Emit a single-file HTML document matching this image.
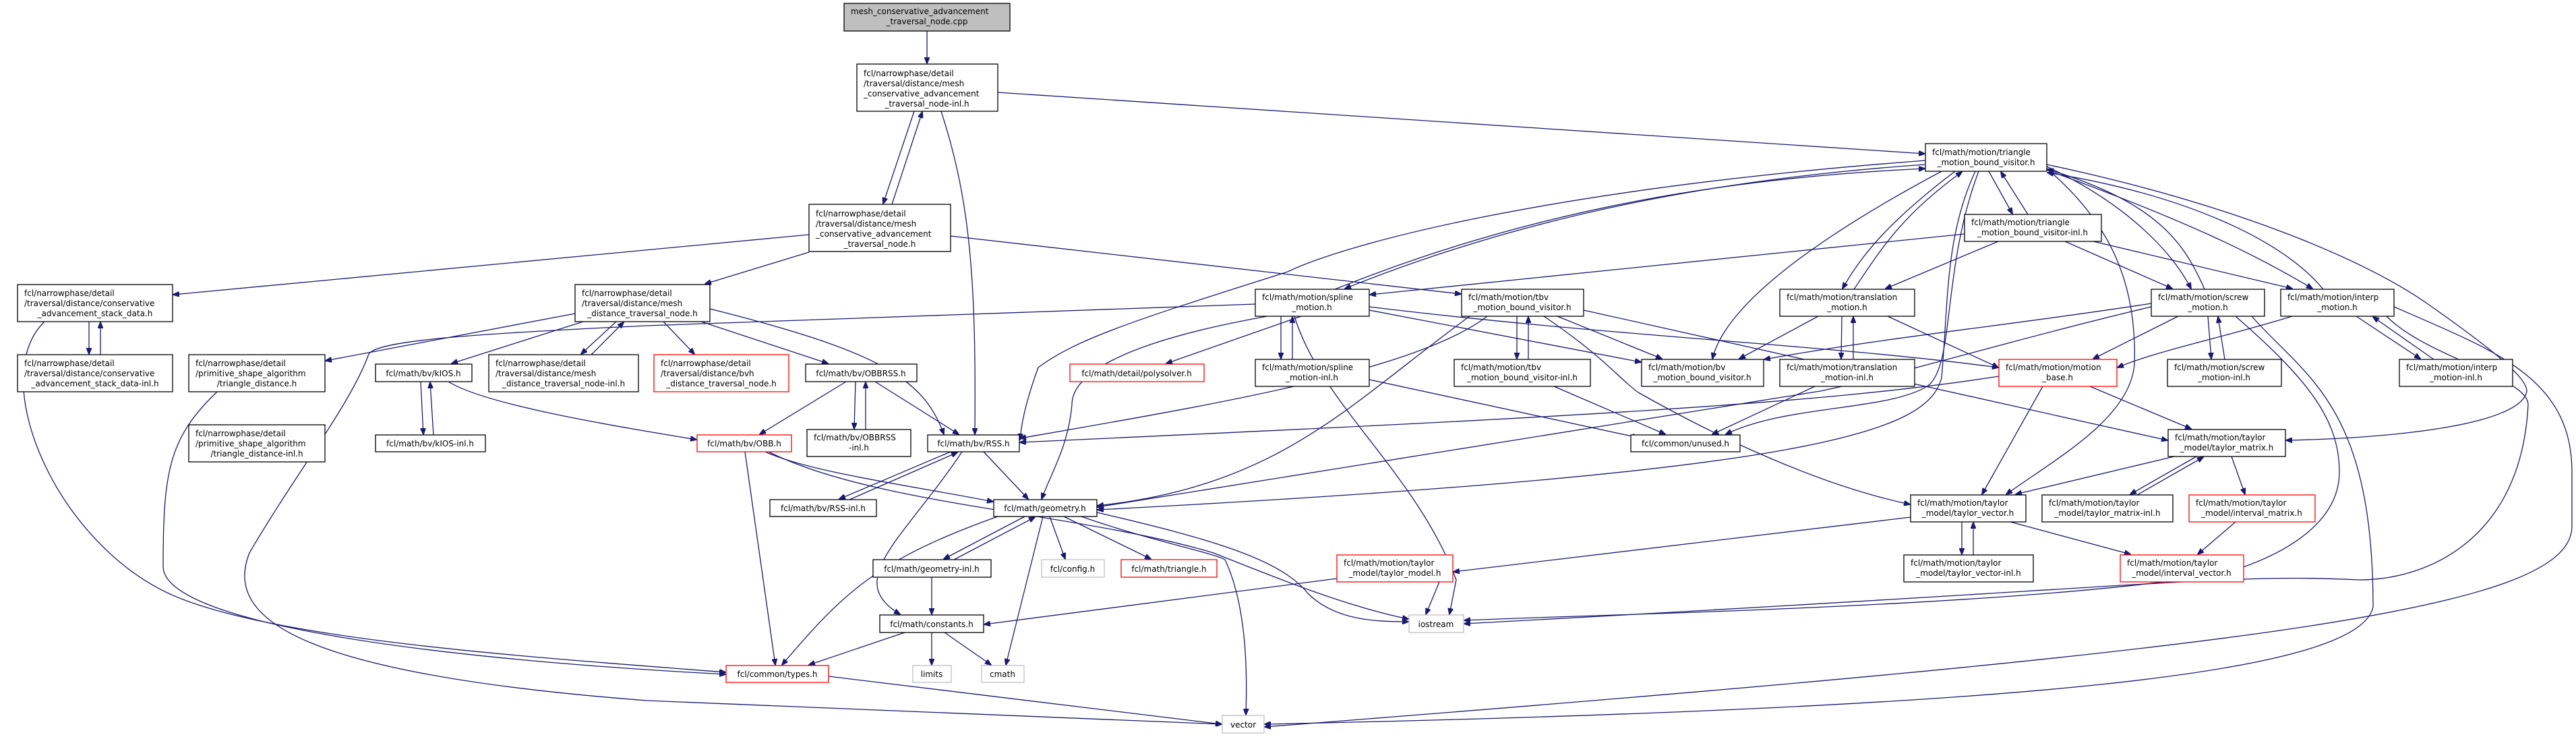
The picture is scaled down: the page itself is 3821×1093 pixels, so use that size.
<!DOCTYPE html>
<html><head><meta charset="utf-8"><style>
html,body{margin:0;padding:0;background:#fff}
svg{display:block}
text{font-family:"DejaVu Sans","Liberation Sans",sans-serif;font-size:12px;fill:#000}
.e{fill:none;stroke:#191970;stroke-width:1.3;marker-end:url(#a)}
.n{fill:#fff;stroke:#000;stroke-width:1.3}
.g{fill:#fff;stroke:#bfbfbf;stroke-width:1.3}
.r{fill:#fff;stroke:#ff0000;stroke-width:1.3}
.c{text-anchor:middle}
</style></head><body>
<svg width="3821" height="1093" viewBox="0 0 3821 1093" xmlns="http://www.w3.org/2000/svg">
<defs><marker id="a" markerWidth="10" markerHeight="8" refX="9" refY="4" orient="auto" markerUnits="userSpaceOnUse"><path d="M0,0 L10,4 L0,8 z" fill="#191970" stroke="#191970"/></marker></defs>

<!-- edges -->
<path class="e" d="M1375,46 L1375,94"/>
<path class="e" d="M1356,165 L1310,302"/>
<path class="e" d="M1323,303 L1368,166"/>
<path class="e" d="M1396,165 C1440,300 1448,420 1446,644"/>
<path class="e" d="M1480,137 L2855,228"/>
<path class="e" d="M1200,348 L257,437"/>
<path class="e" d="M1200,374 L1046,421"/>
<path class="e" d="M1410,350 L2167,436"/>
<path class="e" d="M132,477 L132,525"/>
<path class="e" d="M149,526 L149,478"/>
<path class="e" d="M66,477 C-20,560 80,800 250,880 C400,950 800,975 1076,997"/>
<path class="e" d="M322,581 C250,650 242,700 242,840 C242,920 600,975 1076,1000"/>
<path class="e" d="M853,465 L483,535"/>
<path class="e" d="M865,477 L670,539"/>
<path class="e" d="M914,477 L862,525"/>
<path class="e" d="M877,526 L925,478"/>
<path class="e" d="M984,477 L1030,525"/>
<path class="e" d="M1040,477 L1228,539"/>
<path class="e" d="M1053,458 C1300,520 1370,560 1400,644"/>
<path class="e" d="M1862,451 L960,483 C700,495 560,505 547,525 C520,600 440,700 370,820 C330,920 450,1000 960,1039 L1812,1074"/>
<path class="e" d="M624,566 L628,644"/>
<path class="e" d="M643,645 L638,567"/>
<path class="e" d="M665,566 C720,600 900,630 1033,652"/>
<path class="e" d="M1255,566 L1127,644"/>
<path class="e" d="M1269,566 L1267,636"/>
<path class="e" d="M1284,637 L1284,567"/>
<path class="e" d="M1298,566 L1422,644"/>
<path class="e" d="M1410,670 L1245,740"/>
<path class="e" d="M1260,741 L1420,671"/>
<path class="e" d="M1459,670 L1525,740"/>
<path class="e" d="M1427,670 C1340,800 1250,860 1335,911"/>
<path class="e" d="M1105,670 L1150,986"/>
<path class="e" d="M1135,670 C1200,700 1350,720 1473,744"/>
<path class="e" d="M1140,670 C1300,750 1600,760 1800,820 C1900,860 2000,900 2089,918"/>
<path class="e" d="M1480,766 C1300,830 1250,880 1160,986"/>
<path class="e" d="M1520,766 L1400,829"/>
<path class="e" d="M1415,830 L1535,767"/>
<path class="e" d="M1557,766 L1580,829"/>
<path class="e" d="M1578,766 L1707,829"/>
<path class="e" d="M1547,766 L1492,986"/>
<path class="e" d="M1604,766 C1700,800 1800,820 1817,830 C1850,900 1850,1000 1848,1060"/>
<path class="e" d="M1627,760 C1800,800 1900,830 1940,880 C1980,920 2040,922 2089,922"/>
<path class="e" d="M1382,856 L1382,911"/>
<path class="e" d="M1342,938 L1200,986"/>
<path class="e" d="M1382,938 L1382,986"/>
<path class="e" d="M1401,938 L1470,986"/>
<path class="e" d="M1229,1003 L1812,1074"/>
<path class="e" d="M1980,429 C2300,300 2600,262 2855,250"/>
<path class="e" d="M2855,244 C2600,262 2300,305 1995,428"/>
<path class="e" d="M2856,238 C2300,280 2000,360 1910,403 C1700,470 1600,500 1540,545 C1520,600 1515,630 1513,652"/>
<path class="e" d="M2914,347 L2032,437"/>
<path class="e" d="M1900,469 L1900,532"/>
<path class="e" d="M1917,533 L1917,470"/>
<path class="e" d="M1930,469 L1730,539"/>
<path class="e" d="M1880,469 C1650,510 1590,560 1590,600 C1585,660 1560,700 1545,740"/>
<path class="e" d="M2031,460 L2434,537"/>
<path class="e" d="M2031,455 C2400,500 2700,510 2964,545"/>
<path class="e" d="M1920,469 C1960,600 2100,700 2160,860 L2150,911"/>
<path class="e" d="M2250,469 L2250,532"/>
<path class="e" d="M2267,533 L2267,470"/>
<path class="e" d="M2310,469 L2465,532"/>
<path class="e" d="M2206,469 C2100,550 1800,600 1513,650"/>
<path class="e" d="M2290,469 C2380,530 2400,560 2430,582 C2550,650 2700,720 2833,748"/>
<path class="e" d="M2349,460 L3215,653"/>
<path class="e" d="M2180,469 C2000,600 1900,720 1628,750"/>
<path class="e" d="M2305,573 L2470,644"/>
<path class="e" d="M2031,563 L2430,649"/>
<path class="e" d="M2692,573 L2540,644"/>
<path class="e" d="M2732,469 L2731,532"/>
<path class="e" d="M2749,533 L2749,470"/>
<path class="e" d="M2697,469 L2580,532"/>
<path class="e" d="M2800,469 L2964,545"/>
<path class="e" d="M2900,254 C2800,330 2760,380 2733,428"/>
<path class="e" d="M2750,429 C2790,370 2820,320 2910,255"/>
<path class="e" d="M2880,254 C2700,350 2560,450 2540,532"/>
<path class="e" d="M2935,254 C2880,400 2900,540 2860,572 C2800,610 2650,600 2560,644"/>
<path class="e" d="M2950,254 L2985,317"/>
<path class="e" d="M3008,318 L2968,255"/>
<path class="e" d="M3036,247 C3150,300 3220,370 3250,428"/>
<path class="e" d="M3270,429 C3240,360 3200,300 3037,251"/>
<path class="e" d="M3036,252 C3250,330 3350,380 3430,428"/>
<path class="e" d="M3446,429 C3390,360 3250,290 3037,256"/>
<path class="e" d="M3036,244 C3300,300 3500,380 3600,450 C3700,520 3748,560 3748,580 C3740,630 3550,650 3391,653"/>
<path class="e" d="M3036,250 C3130,330 3170,420 3166,540 C3160,620 3050,680 2976,733"/>
<path class="e" d="M2930,254 C2885,350 2890,450 2880,560 C2860,640 2700,700 1628,756"/>
<path class="e" d="M3275,469 L3280,532"/>
<path class="e" d="M3300,533 L3290,470"/>
<path class="e" d="M3231,469 L3105,532"/>
<path class="e" d="M3191,450 C3000,480 2800,500 2617,533"/>
<path class="e" d="M3316,469 C3420,560 3470,620 3470,700 C3470,770 3400,820 3300,850 C3000,900 2400,910 2172,920"/>
<path class="e" d="M3340,469 C3420,560 3520,600 3520,900 C3500,1000 3000,1050 1876,1074"/>
<path class="e" d="M3495,469 L3590,532"/>
<path class="e" d="M3610,533 L3520,470"/>
<path class="e" d="M3400,469 C3300,500 3200,520 3141,545"/>
<path class="e" d="M3540,469 C3600,530 3750,560 3750,600 C3740,800 3600,860 3500,860 C3300,850 3200,870 2172,925"/>
<path class="e" d="M3551,455 C3700,520 3815,560 3815,700 L3815,780 C3815,900 3400,960 1876,1078"/>
<path class="e" d="M3063,358 L3222,428"/>
<path class="e" d="M3105,358 L3400,428"/>
<path class="e" d="M2964,358 L2797,428"/>
<path class="e" d="M2965,558 C2700,600 2300,620 1513,656"/>
<path class="e" d="M3030,573 L2940,733"/>
<path class="e" d="M3100,573 L3250,636"/>
<path class="e" d="M3225,677 L2990,733"/>
<path class="e" d="M3258,677 L3160,733"/>
<path class="e" d="M3170,734 L3268,678"/>
<path class="e" d="M3310,677 L3330,733"/>
<path class="e" d="M2910,774 L2910,822"/>
<path class="e" d="M2927,823 L2927,775"/>
<path class="e" d="M2982,774 L3160,822"/>
<path class="e" d="M3316,774 L3260,822"/>
<path class="e" d="M1983,858 L1460,926"/>
<path class="e" d="M2135,863 L2115,911"/>
<path class="e" d="M2834,767 L2156,848"/>
<path class="e" d="M3191,455 C3000,500 2800,560 2700,580 L1628,752"/>

<!-- nodes -->
<rect x="1252" y="5" width="246" height="41" fill="#bfbfbf" stroke="#000" stroke-width="1.3"/>
<text x="1262" y="21">mesh_conservative_advancement</text><text class="c" x="1375" y="36">_traversal_node.cpp</text>

<rect class="n" x="1271" y="95" width="209" height="70"/>
<text x="1281" y="113">fcl/narrowphase/detail</text><text x="1281" y="128">/traversal/distance/mesh</text><text x="1281" y="143">_conservative_advancement</text><text class="c" x="1375" y="158">_traversal_node-inl.h</text>

<rect class="n" x="1200" y="303" width="210" height="70"/>
<text x="1210" y="321">fcl/narrowphase/detail</text><text x="1210" y="336">/traversal/distance/mesh</text><text x="1210" y="351">_conservative_advancement</text><text class="c" x="1305" y="366">_traversal_node.h</text>

<rect class="n" x="26" y="422" width="230" height="55"/>
<text x="36" y="439">fcl/narrowphase/detail</text><text x="36" y="454">/traversal/distance/conservative</text><text class="c" x="141" y="469">_advancement_stack_data.h</text>

<rect class="n" x="26" y="526" width="230" height="55"/>
<text x="36" y="543">fcl/narrowphase/detail</text><text x="36" y="558">/traversal/distance/conservative</text><text class="c" x="141" y="573">_advancement_stack_data-inl.h</text>

<rect class="n" x="280" y="526" width="202" height="55"/>
<text x="290" y="543">fcl/narrowphase/detail</text><text x="290" y="558">/primitive_shape_algorithm</text><text class="c" x="381" y="573">/triangle_distance.h</text>

<rect class="n" x="280" y="630" width="202" height="55"/>
<text x="290" y="647">fcl/narrowphase/detail</text><text x="290" y="662">/primitive_shape_algorithm</text><text class="c" x="381" y="677">/triangle_distance-inl.h</text>

<rect class="n" x="853" y="422" width="200" height="55"/>
<text x="863" y="439">fcl/narrowphase/detail</text><text x="863" y="454">/traversal/distance/mesh</text><text class="c" x="953" y="469">_distance_traversal_node.h</text>

<rect class="n" x="557" y="540" width="143" height="26"/><text class="c" x="628" y="558">fcl/math/bv/kIOS.h</text>
<rect class="n" x="557" y="645" width="163" height="25"/><text class="c" x="638" y="662">fcl/math/bv/kIOS-inl.h</text>

<rect class="n" x="725" y="526" width="222" height="55"/>
<text x="735" y="543">fcl/narrowphase/detail</text><text x="735" y="558">/traversal/distance/mesh</text><text class="c" x="836" y="573">_distance_traversal_node-inl.h</text>

<rect class="r" x="970" y="526" width="200" height="55"/>
<text x="980" y="543">fcl/narrowphase/detail</text><text x="980" y="558">/traversal/distance/bvh</text><text class="c" x="1070" y="573">_distance_traversal_node.h</text>

<rect class="n" x="1195" y="540" width="165" height="26"/><text class="c" x="1277" y="558">fcl/math/bv/OBBRSS.h</text>
<rect class="n" x="1197" y="637" width="154" height="40"/><text x="1207" y="653">fcl/math/bv/OBBRSS</text><text class="c" x="1274" y="668">-inl.h</text>
<rect class="n" x="1376" y="645" width="136" height="25"/><text class="c" x="1444" y="662">fcl/math/bv/RSS.h</text>
<rect class="r" x="1034" y="645" width="140" height="25"/><text class="c" x="1104" y="662">fcl/math/bv/OBB.h</text>
<rect class="n" x="1142" y="741" width="158" height="25"/><text class="c" x="1221" y="758">fcl/math/bv/RSS-inl.h</text>
<rect class="n" x="1474" y="741" width="153" height="25"/><text class="c" x="1550" y="758">fcl/math/geometry.h</text>
<rect class="n" x="1295" y="830" width="175" height="26"/><text class="c" x="1382" y="848">fcl/math/geometry-inl.h</text>
<rect class="g" x="1545" y="830" width="93" height="26"/><text class="c" x="1591" y="848">fcl/config.h</text>
<rect class="r" x="1663" y="830" width="142" height="26"/><text class="c" x="1734" y="848">fcl/math/triangle.h</text>
<rect class="n" x="1305" y="912" width="154" height="26"/><text class="c" x="1382" y="930">fcl/math/constants.h</text>
<rect class="r" x="1077" y="987" width="152" height="25"/><text class="c" x="1153" y="1004">fcl/common/types.h</text>
<rect class="g" x="1354" y="987" width="57" height="25"/><text class="c" x="1382" y="1004">limits</text>
<rect class="g" x="1456" y="987" width="63" height="25"/><text class="c" x="1487" y="1004">cmath</text>
<rect class="g" x="1813" y="1061" width="62" height="26"/><text class="c" x="1844" y="1079">vector</text>
<rect class="r" x="1587" y="540" width="199" height="26"/><text class="c" x="1686" y="558">fcl/math/detail/polysolver.h</text>

<rect class="n" x="1862" y="429" width="169" height="40"/><text x="1872" y="445">fcl/math/motion/spline</text><text class="c" x="1946" y="460">_motion.h</text>
<rect class="n" x="1862" y="533" width="169" height="40"/><text x="1872" y="549">fcl/math/motion/spline</text><text class="c" x="1946" y="564">_motion-inl.h</text>
<rect class="n" x="2168" y="429" width="181" height="40"/><text x="2178" y="445">fcl/math/motion/tbv</text><text class="c" x="2258" y="460">_motion_bound_visitor.h</text>
<rect class="n" x="2157" y="533" width="202" height="40"/><text x="2167" y="549">fcl/math/motion/tbv</text><text class="c" x="2258" y="564">_motion_bound_visitor-inl.h</text>
<rect class="n" x="2435" y="533" width="181" height="40"/><text x="2445" y="549">fcl/math/motion/bv</text><text class="c" x="2525" y="564">_motion_bound_visitor.h</text>
<rect class="n" x="2640" y="429" width="200" height="40"/><text x="2650" y="445">fcl/math/motion/translation</text><text class="c" x="2740" y="460">_motion.h</text>
<rect class="n" x="2640" y="533" width="200" height="40"/><text x="2650" y="549">fcl/math/motion/translation</text><text class="c" x="2740" y="564">_motion-inl.h</text>
<rect class="n" x="2419" y="645" width="162" height="25"/><text class="c" x="2500" y="662">fcl/common/unused.h</text>
<rect class="g" x="2090" y="912" width="81" height="26"/><text class="c" x="2130" y="930">iostream</text>
<rect class="r" x="1983" y="823" width="172" height="40"/><text x="1993" y="839">fcl/math/motion/taylor</text><text class="c" x="2069" y="854">_model/taylor_model.h</text>

<rect class="n" x="2856" y="213" width="180" height="41"/><text x="2866" y="230">fcl/math/motion/triangle</text><text class="c" x="2946" y="245">_motion_bound_visitor.h</text>
<rect class="n" x="2914" y="318" width="203" height="40"/><text x="2924" y="334">fcl/math/motion/triangle</text><text class="c" x="3015" y="349">_motion_bound_visitor-inl.h</text>
<rect class="n" x="3191" y="429" width="168" height="40"/><text x="3201" y="445">fcl/math/motion/screw</text><text class="c" x="3275" y="460">_motion.h</text>
<rect class="n" x="3383" y="429" width="168" height="40"/><text x="3393" y="445">fcl/math/motion/interp</text><text class="c" x="3467" y="460">_motion.h</text>
<rect class="r" x="2965" y="533" width="175" height="40"/><text x="2975" y="549">fcl/math/motion/motion</text><text class="c" x="3052" y="564">_base.h</text>
<rect class="n" x="3215" y="533" width="169" height="40"/><text x="3225" y="549">fcl/math/motion/screw</text><text class="c" x="3299" y="564">_motion-inl.h</text>
<rect class="n" x="3559" y="533" width="168" height="40"/><text x="3569" y="549">fcl/math/motion/interp</text><text class="c" x="3643" y="564">_motion-inl.h</text>
<rect class="n" x="3216" y="637" width="174" height="40"/><text x="3226" y="653">fcl/math/motion/taylor</text><text class="c" x="3303" y="668">_model/taylor_matrix.h</text>
<rect class="n" x="2834" y="734" width="171" height="40"/><text x="2844" y="750">fcl/math/motion/taylor</text><text class="c" x="2919" y="765">_model/taylor_vector.h</text>
<rect class="n" x="3029" y="734" width="194" height="40"/><text x="3039" y="750">fcl/math/motion/taylor</text><text class="c" x="3126" y="765">_model/taylor_matrix-inl.h</text>
<rect class="r" x="3247" y="734" width="187" height="40"/><text x="3257" y="750">fcl/math/motion/taylor</text><text class="c" x="3340" y="765">_model/interval_matrix.h</text>
<rect class="n" x="2824" y="823" width="192" height="40"/><text x="2834" y="839">fcl/math/motion/taylor</text><text class="c" x="2920" y="854">_model/taylor_vector-inl.h</text>
<rect class="r" x="3145" y="823" width="183" height="40"/><text x="3155" y="839">fcl/math/motion/taylor</text><text class="c" x="3236" y="854">_model/interval_vector.h</text>
</svg>
</body></html>
